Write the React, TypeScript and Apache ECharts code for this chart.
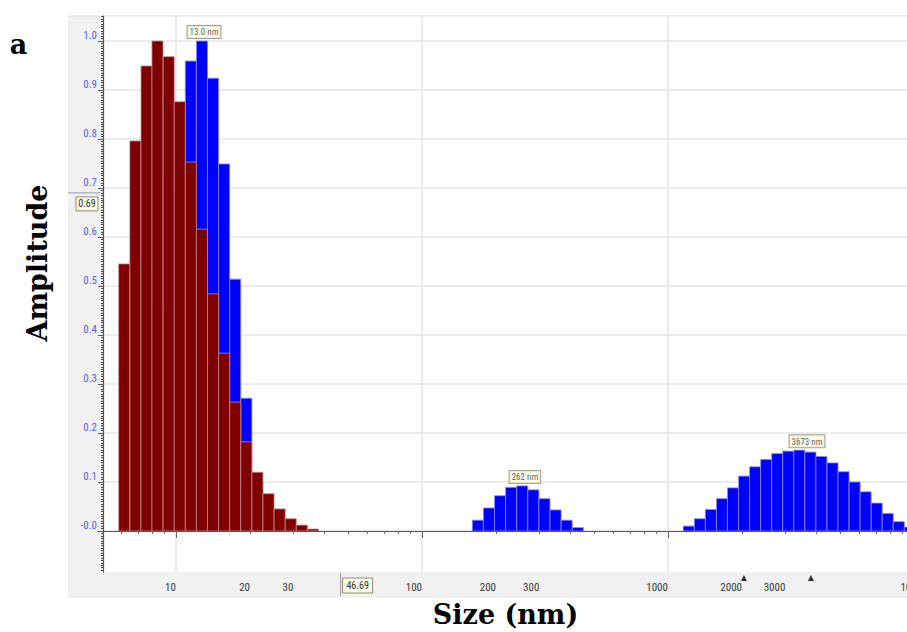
import React, { useEffect, useRef } from 'react';
import * as echarts from 'echarts';

// ---------------- data ----------------
// Bin centres (nm) and amplitudes of the dark-red distribution
const redSizes = [6.16, 6.84, 7.59, 8.41, 9.34, 10.36, 11.49, 12.75, 14.15, 15.69, 17.41, 19.32, 21.43, 23.78, 26.38, 29.27, 32.47, 36.03];
const redAmps = [0.545, 0.796, 0.949, 1.0, 0.968, 0.876, 0.753, 0.616, 0.484, 0.363, 0.263, 0.182, 0.12, 0.076, 0.045, 0.025, 0.012, 0.004];

// Blue distribution, three populations
const blueSizesA = [7.59, 8.41, 9.34, 10.36, 11.49, 12.75, 14.15, 15.69, 17.41, 19.32, 21.43, 23.78];
const blueAmpsA = [0.1, 0.25, 0.45, 0.7, 0.959, 1.0, 0.924, 0.749, 0.514, 0.271, 0.1, 0.04];
const blueSizesB = [168.7, 187.2, 207.7, 230.4, 255.6, 283.6, 314.6, 349.1, 387.3, 429.7];
const blueAmpsB = [0.022, 0.047, 0.072, 0.089, 0.092, 0.084, 0.066, 0.043, 0.022, 0.007];
const blueSizesC = [1215, 1348, 1494, 1658, 1838, 2039, 2260, 2507, 2780, 3083, 3418, 3793, 4204, 4664, 5170, 5735, 6358, 7053, 7819, 8675, 9614];
const blueAmpsC = [0.01, 0.025, 0.044, 0.066, 0.088, 0.112, 0.131, 0.146, 0.158, 0.163, 0.165, 0.161, 0.152, 0.139, 0.121, 0.1, 0.08, 0.057, 0.036, 0.019, 0.008];

// Peak annotations
const peakSizes = [13.0, 262, 3673];
const peakAmps = [1.0, 0.092, 0.165];
const peakLabels = ['13.0 nm', '262 nm', '3673 nm'];

// Axis ticks
const xTickLabels = [10, 20, 30, 100, 200, 300, 1000, 2000, 3000];
const xEdgeLabels = [10000];
const xDecades = [10, 100, 1000, 10000];
const yTickLabels = [0, 0.1, 0.2, 0.3, 0.4, 0.5, 0.6, 0.7, 0.8, 0.9, 1.0];

// Cursor read-outs and axis markers
const cursorSize = 46.69;
const cursorAmp = 0.69;
const markerSizes = [2036, 3811];

// ---------------- geometry / style ----------------
const X_MIN = 0.7033; // log10(nm)
const X_MAX = 4.1057;
const Y_MIN = -0.0837;
const Y_MAX = 1.051;
const HALF_BIN = 0.0225; // half bin width in decades

const NARROW = "'Liberation Sans Narrow', 'Arial Narrow', 'Roboto Condensed', 'Liberation Sans', sans-serif";
const SERIF = "'DejaVu Serif', 'Liberation Serif', serif";

const lg = (v: number) => Math.log10(v);

const xMinorTicks: number[] = [];
for (let d = 0; d <= 4; d++) {
  for (let k = 1; k <= 9; k++) {
    const l = lg(k * Math.pow(10, d));
    if (l >= X_MIN && l <= X_MAX) xMinorTicks.push(l);
  }
}
const yMinorTicks: number[] = [];
for (let i = -16; i <= 210; i++) {
  const v = Math.round(i * 5) / 1000;
  if (v >= Y_MIN && v <= Y_MAX) yMinorTicks.push(v);
}

const barRender = (fill: string, stroke: string) => (params: any, api: any) => {
  const lc = api.value(0);
  const v = api.value(1);
  const p0 = api.coord([lc - HALF_BIN, v]);
  const p1 = api.coord([lc + HALF_BIN, 0]);
  const cs = params.coordSys;
  const rect = echarts.graphic.clipRectByRect(
    { x: p0[0], y: p0[1], width: p1[0] - p0[0], height: p1[1] - p0[1] },
    { x: cs.x, y: cs.y, width: cs.width, height: cs.height }
  );
  if (!rect) return null;
  return { type: 'rect', shape: rect, style: { fill, stroke, lineWidth: 0.8 } };
};

const xLabelStyle = { margin: 10, color: '#3a3a3a', fontSize: 11, fontFamily: NARROW };

export default function App() {
  const ref = useRef<HTMLDivElement>(null);

  useEffect(() => {
    if (!ref.current) return;
    const chart = echarts.init(ref.current, null, { renderer: 'svg' });

    const blueData = [
      ...blueSizesA.map((s, i) => [lg(s), blueAmpsA[i]]),
      ...blueSizesB.map((s, i) => [lg(s), blueAmpsB[i]]),
      ...blueSizesC.map((s, i) => [lg(s), blueAmpsC[i]]),
    ];
    const redData = redSizes.map((s, i) => [lg(s), redAmps[i]]);
    const fmtX = (v: number) => String(Math.round(Math.pow(10, v)));

    const option: any = {
      animation: false,
      grid: { left: 103, right: 0, top: 16, bottom: 60 },
      xAxis: [
        {
          type: 'value', min: X_MIN, max: X_MAX, position: 'bottom', z: 4,
          axisLine: { show: true, lineStyle: { color: '#555', width: 1.2 } },
          axisTick: { show: true, customValues: xMinorTicks, length: 3, lineStyle: { color: '#666' } },
          axisLabel: { customValues: xTickLabels.map(lg), formatter: fmtX, align: 'right', ...xLabelStyle },
          splitLine: { show: false },
        },
        {
          type: 'value', min: X_MIN, max: X_MAX, position: 'bottom', z: 4,
          axisLine: { show: false },
          axisTick: { show: true, customValues: xDecades.map(lg), length: 7, lineStyle: { color: '#666' } },
          axisLabel: { customValues: xEdgeLabels.map(lg), formatter: fmtX, align: 'center', ...xLabelStyle },
          splitLine: { show: false },
        },
      ],
      yAxis: [
        {
          type: 'value', min: Y_MIN, max: Y_MAX, position: 'left', z: 4,
          axisLine: { show: true, lineStyle: { color: '#555', width: 1.2 } },
          axisTick: { show: true, customValues: yMinorTicks, length: 2, lineStyle: { color: '#444' } },
          axisLabel: {
            customValues: yTickLabels,
            formatter: (v: number) => (Math.abs(v) < 1e-9 ? '-0.0' : v.toFixed(1)),
            verticalAlign: 'bottom', margin: 6, color: '#5c5cf0', fontSize: 11, fontFamily: NARROW,
          },
          splitLine: { show: false },
        },
        {
          type: 'value', min: Y_MIN, max: Y_MAX, position: 'left', z: 4,
          axisLine: { show: false },
          axisTick: { show: true, customValues: yTickLabels, length: 5, lineStyle: { color: '#555' } },
          axisLabel: { show: false },
          splitLine: { show: false },
        },
      ],
      series: [
        {
          type: 'custom', name: 'vgrid', z: 1, silent: true,
          data: xDecades.map((v) => [lg(v), 0]),
          encode: { x: 0, y: 1 },
          renderItem: (params: any, api: any) => {
            const x = api.coord([api.value(0), 0])[0];
            const cs = params.coordSys;
            if (x < cs.x || x > cs.x + cs.width) return null;
            return { type: 'line', shape: { x1: x, y1: cs.y, x2: x, y2: cs.y + cs.height }, style: { stroke: '#e6e6e6', lineWidth: 1.5 } };
          },
        },
        {
          type: 'custom', name: 'hgrid', z: 1, silent: true,
          data: yTickLabels.map((v) => [X_MIN, v]),
          encode: { x: 0, y: 1 },
          renderItem: (params: any, api: any) => {
            const y = api.coord([X_MIN, api.value(1)])[1];
            const cs = params.coordSys;
            return { type: 'line', shape: { x1: cs.x, y1: y, x2: cs.x + cs.width, y2: y }, style: { stroke: '#e6e6e6', lineWidth: 1.5 } };
          },
        },
        {
          type: 'custom', name: 'blue', z: 2,
          data: blueData, encode: { x: 0, y: 1 },
          renderItem: barRender('#0000fe', '#8c8cff'),
        },
        {
          type: 'custom', name: 'red', z: 3,
          data: redData, encode: { x: 0, y: 1 },
          renderItem: barRender('#7e0000', '#c48a8a'),
        },
        {
          type: 'scatter', name: 'peaks', z: 6, symbolSize: 0, silent: true,
          data: peakSizes.map((s, i) => [lg(s), peakAmps[i]]),
          label: {
            show: true, position: 'top', distance: 3,
            formatter: (p: any) => peakLabels[p.dataIndex],
            fontSize: 9, fontFamily: NARROW, color: '#333',
            backgroundColor: '#fdfde4', borderColor: '#8c8c74', borderWidth: 1,
            padding: [2, 2, 1, 2],
          },
        },
        {
          type: 'scatter', name: 'markers', z: 6, clip: false, silent: true,
          symbol: 'triangle', symbolSize: [6, 6], symbolOffset: [0, 6],
          itemStyle: { color: '#000' },
          data: markerSizes.map((s) => [lg(s), Y_MIN]),
        },
      ],
    };
    chart.setOption(option);

    const px = chart.convertToPixel({ xAxisIndex: 0 }, lg(cursorSize)) as number;
    const py = chart.convertToPixel({ yAxisIndex: 0 }, cursorAmp) as number;

    chart.setOption({
      graphic: [
        { type: 'rect', z: -10, shape: { x: 68, y: 16, width: 35, height: 581 }, style: { fill: '#f1f1f1' } },
        { type: 'rect', z: -10, shape: { x: 68, y: 572, width: 880, height: 25 }, style: { fill: '#f1f1f1' } },
        { type: 'line', z: -9, shape: { x1: 68, y1: 16, x2: 940, y2: 16 }, style: { stroke: '#e2e2e2', lineWidth: 1 } },
        { type: 'line', z: -9, shape: { x1: 68, y1: 597, x2: 940, y2: 597 }, style: { stroke: '#e8e8e8', lineWidth: 1 } },
        // y cursor read-out
        { type: 'line', z: 10, shape: { x1: 68, y1: py, x2: 101, y2: py }, style: { stroke: '#9a9a9a', lineWidth: 1 } },
        { type: 'rect', z: 10, shape: { x: 76, y: py + 4, width: 22, height: 14 }, style: { fill: '#fbfbe6', stroke: '#8c8c74', lineWidth: 1 } },
        { type: 'text', z: 11, x: 87, y: py + 11, style: { text: String(cursorAmp), fontSize: 10, fontFamily: NARROW, fill: '#333', align: 'center', verticalAlign: 'middle' } },
        // x cursor read-out
        { type: 'line', z: 10, shape: { x1: px, y1: 573, x2: px, y2: 596 }, style: { stroke: '#9a9a9a', lineWidth: 1 } },
        { type: 'rect', z: 10, shape: { x: px + 2, y: 578, width: 30, height: 15 }, style: { fill: '#fbfbe6', stroke: '#8c8c74', lineWidth: 1 } },
        { type: 'text', z: 11, x: px + 17, y: 585.5, style: { text: String(cursorSize), fontSize: 10, fontFamily: NARROW, fill: '#333', align: 'center', verticalAlign: 'middle' } },
        // titles
        { type: 'text', z: 11, x: 18.5, y: 44, style: { text: 'a', font: `bold 27px ${SERIF}`, fill: '#000', align: 'center', verticalAlign: 'middle' } },
        { type: 'text', z: 11, x: 37, y: 263, rotation: Math.PI / 2, style: { text: 'Amplitude', font: `bold 27px ${SERIF}`, fill: '#000', align: 'center', verticalAlign: 'middle' } },
        { type: 'text', z: 11, x: 505.5, y: 614, style: { text: 'Size (nm)', font: `bold 27px ${SERIF}`, fill: '#000', align: 'center', verticalAlign: 'middle' } },
      ],
    });

    return () => chart.dispose();
  }, []);

  return (
    <div style={{ position: 'fixed', left: 0, top: 0, width: 907, height: 632, overflow: 'hidden', background: '#fff' }}>
      <div ref={ref} style={{ width: 940, height: 632 }} />
    </div>
  );
}
